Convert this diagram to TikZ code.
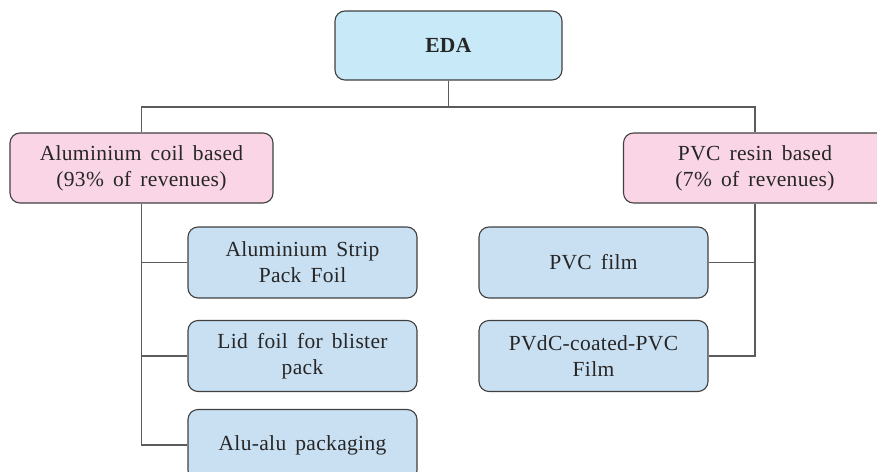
\documentclass[tikz,border=0pt]{standalone}
\usepackage{fontspec}
\setmainfont{Liberation Serif}[LetterSpace=1.5, WordSpace=1.6]
\newlength{\du}
\setlength{\du}{1pt}
\definecolor{edafill}{rgb}{0.784, 0.914, 0.973}
\definecolor{segfill}{rgb}{0.976, 0.835, 0.898}
\definecolor{prodfill}{rgb}{0.788, 0.875, 0.949}
\definecolor{dialinecolor}{rgb}{0.250, 0.250, 0.250}
\tikzset{
  boxbase/.style={draw=dialinecolor, line width=1.1\du, rounded corners=10\du,
    align=center, inner sep=0pt, text=black!85,
    font=\fontsize{21.5}{26}\selectfont},
  topbox/.style={boxbase, fill=edafill, minimum width=227\du, minimum height=69\du},
  segbox/.style={boxbase, fill=segfill, minimum width=263\du, minimum height=70\du},
  prodbox/.style={boxbase, fill=prodfill, minimum width=229\du, minimum height=71\du},
  wire/.style={draw=dialinecolor!85, line width=1.3\du},
}

\begin{document}
\begin{tikzpicture}[x=1\du, y=-1\du]
\useasboundingbox (0,0) rectangle (877,471);
\clip (0,0) rectangle (877,471);
% top of the tree
\node[topbox] (eda) at (448.5,45.5) {\textbf{EDA}};
\coordinate (fork) at (448.5,107);
% the two segments
\node[segbox] (alucoil) at (141.5,168) {Aluminium coil based\\(93\% of revenues)};
\node[segbox] (pvcresin) at (755,168) {PVC resin based\\(7\% of revenues)};
% aluminium products
\node[prodbox] (strip) at (302.5,262.5) {Aluminium Strip\\Pack Foil};
\node[prodbox] (lidfoil) at (302.5,356) {Lid foil for blister\\pack};
\node[prodbox] (alualu) at (302.5,445) {Alu-alu packaging};
% pvc products
\node[prodbox] (pvcfilm) at (593.5,262.5) {PVC film};
\node[prodbox] (pvdc) at (593.5,356) {PVdC-coated-PVC\\Film};
% connectors
\draw[wire] (eda.south) -- (fork);
\draw[wire] (fork) -| (alucoil.north);
\draw[wire] (fork) -| (pvcresin.north);
\draw[wire] (alucoil.south) |- (strip.west);
\draw[wire] (alucoil.south) |- (lidfoil.west);
\draw[wire] (alucoil.south) |- (alualu.west);
\draw[wire] (pvcresin.south) |- (pvcfilm.east);
\draw[wire] (pvcresin.south) |- (pvdc.east);
\end{tikzpicture}
\end{document}
